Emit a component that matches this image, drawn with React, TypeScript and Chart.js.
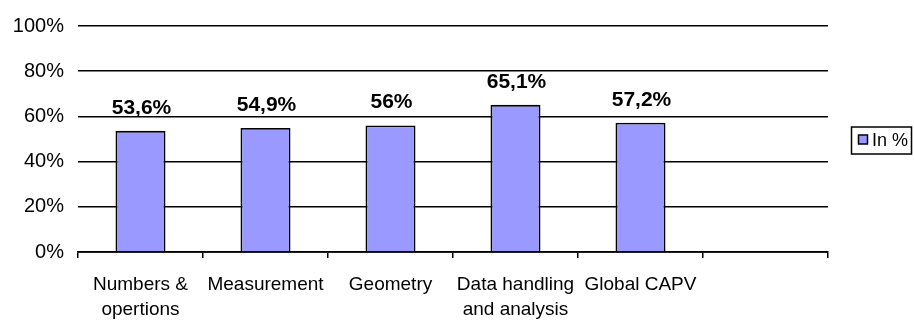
import React, { useEffect, useRef } from "react";
import { Chart, registerables } from "chart.js";

Chart.register(...registerables);

const categories: (string | string[])[] = [
  ["Numbers &", "opertions"],
  "Measurement",
  "Geometry",
  ["Data handling", "and analysis"],
  "Global CAPV",
  "",
];
const values: (number | null)[] = [53.6, 54.9, 56, 65.1, 57.2, null];
const valueLabels: string[] = ["53,6%", "54,9%", "56%", "65,1%", "57,2%", ""];
const yTicks: number[] = [0, 20, 40, 60, 80, 100];
const seriesName = "In %";

const FONT = 'Arial, "Liberation Sans", sans-serif';
const BAR_COLOR = "#9999FF";

const labelsPlugin = {
  id: "valueLabels",
  afterDatasetsDraw(chart: any) {
    const ctx = chart.ctx;
    const meta = chart.getDatasetMeta(0);
    ctx.save();
    ctx.font = `bold 21px ${FONT}`;
    ctx.fillStyle = "#000";
    ctx.textAlign = "center";
    ctx.textBaseline = "alphabetic";
    meta.data.forEach((el: any, i: number) => {
      if (values[i] == null) return;
      ctx.fillText(valueLabels[i], el.x + 1, el.y - 17);
    });
    ctx.restore();
  },
  afterDraw(chart: any) {
    const ctx = chart.ctx;
    const area = chart.chartArea;
    const w = 60;
    const h = 27;
    const x = area.right + 23;
    const y = (area.top + area.bottom) / 2 - h / 2 + 1;
    ctx.save();
    ctx.fillStyle = "#fff";
    ctx.fillRect(x, y, w, h);
    ctx.strokeStyle = "#000";
    ctx.lineWidth = 1.5;
    ctx.strokeRect(x + 0.5, y + 0.5, w, h);
    ctx.lineWidth = 1.5;
    ctx.fillStyle = BAR_COLOR;
    ctx.fillRect(x + 7.5, y + 8.5, 9, 9);
    ctx.strokeRect(x + 7.5, y + 8.5, 9, 9);
    ctx.fillStyle = "#000";
    ctx.font = `18px ${FONT}`;
    ctx.textAlign = "left";
    ctx.textBaseline = "middle";
    ctx.fillText(seriesName, x + 21, y + h / 2 + 1);
    ctx.restore();
  },
};

export default function App() {
  const ref = useRef<HTMLCanvasElement | null>(null);
  useEffect(() => {
    if (!ref.current) return;
    const chart = new Chart(ref.current, {
      type: "bar",
      data: {
        labels: categories,
        datasets: [
          {
            label: seriesName,
            data: values,
            backgroundColor: BAR_COLOR,
            borderColor: "#000",
            borderWidth: 1.8,
            barPercentage: 0.4,
            categoryPercentage: 1,
          },
        ],
      },
      options: {
        animation: false,
        responsive: false,
        maintainAspectRatio: false,
        layout: { padding: { left: 0, right: 86, top: 21, bottom: 0 } },
        plugins: {
          legend: { display: false },
          tooltip: { enabled: false },
        },
        scales: {
          x: {
            type: "category",
            offset: true,
            grid: {
              offset: true,
              drawOnChartArea: false,
              drawTicks: true,
              tickLength: 6,
              color: "#000",
              lineWidth: 1.5,
            },
            border: { display: true, color: "#000", width: 1.8 },
            ticks: {
              color: "#000",
              font: { family: FONT, size: 19, lineHeight: 1.32 },
              padding: 14,
              maxRotation: 0,
              autoSkip: false,
            },
            afterFit(scale: any) {
              scale.height = 68;
            },
          },
          y: {
            min: 0,
            max: 100,
            afterBuildTicks(scale: any) {
              scale.ticks = yTicks.map((v) => ({ value: v }));
            },
            grid: {
              drawTicks: false,
              color: "#000",
              lineWidth: 1.5,
            },
            border: { display: false },
            ticks: {
              color: "#000",
              font: { family: FONT, size: 20 },
              padding: 14,
              callback: (v: any) => `${v}%`,
            },
            afterFit(scale: any) {
              scale.width = 78;
            },
          },
        },
      },
      plugins: [labelsPlugin],
    });
    return () => chart.destroy();
  }, []);
  return (
    <div style={{ position: "fixed", left: 0, top: 0, width: 914, height: 320, background: "#fff" }}>
      <canvas ref={ref} width={914} height={320} style={{ width: 914, height: 320 }} />
    </div>
  );
}
